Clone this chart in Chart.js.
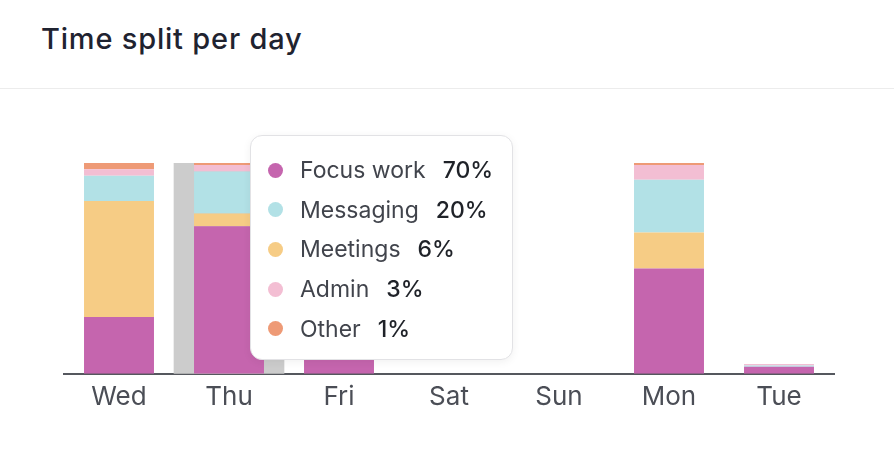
<!DOCTYPE html>
<html>
<head>
<meta charset="utf-8">
<script src="https://cdn.jsdelivr.net/npm/chart.js@4.4.1/dist/chart.umd.min.js"></script>
<style>
  html, body { margin: 0; padding: 0; background: #fff; }
  body { width: 894px; height: 458px; position: relative; overflow: hidden; font-family: Inter, "Noto Sans", sans-serif; }
  #header { position: absolute; left: 0; top: 0; width: 894px; height: 88px; border-bottom: 1px solid #ececec; }
  #title { position: absolute; left: 41px; top: 21px; font-size: 29px; font-weight: 500; color: #1f2330; letter-spacing: 0.8px; white-space: nowrap; }
  #wrap { position: absolute; left: 0; top: 89px; width: 894px; height: 369px; }
  #tip { position: absolute; left: 250px; top: 135px; width: 261px; height: 223px; background: #fff; border: 1px solid #e2e2e5; border-radius: 12px; box-shadow: 0 2px 8px rgba(0,0,0,0.06); }
  .row { position: absolute; left: 0; height: 30px; display: flex; align-items: center; white-space: nowrap; }
  .dot { width: 15px; height: 15px; border-radius: 50%; margin-left: 17px; margin-right: 17px; }
  .lab { font-size: 23px; color: #41444c; }
  .val { font-size: 23px; color: #1f2228; font-weight: 500; margin-left: 17px; }
</style>
</head>
<body>
<div id="header"><div id="title">Time split per day</div></div>
<div id="wrap"><canvas id="c"></canvas></div>
<div id="tip"></div>
<script>
const days = ["Wed", "Thu", "Fri", "Sat", "Sun", "Mon", "Tue"];
const seriesNames = ["Focus work", "Meetings", "Messaging", "Admin", "Other"];
const focusWork = [27, 70, 62, null, null, 50, 3.3];
const meetings  = [55, 6, 14, null, null, 17, 0];
const messaging = [12, 20, 17, null, null, 25, 0.6];
const admin     = [3, 3, 5, null, null, 7, 0.8];
const other     = [3, 1, 2, null, null, 1, 0];
const highlight = [null, 100, null, null, null, null, null];
const hoveredIndex = 1;
const tooltipOrder = ["Focus work", "Messaging", "Meetings", "Admin", "Other"];

const colors = {
  "Focus work": "#c565ae",
  "Meetings": "#f6cc85",
  "Messaging": "#b2e1e6",
  "Admin": "#f3bed3",
  "Other": "#ee9a76"
};
const seriesData = {
  "Focus work": focusWork,
  "Meetings": meetings,
  "Messaging": messaging,
  "Admin": admin,
  "Other": other
};

const datasets = seriesNames.map(name => ({
  label: name,
  data: seriesData[name],
  backgroundColor: colors[name],
  borderWidth: 0,
  stack: "day",
  order: 1,
  grouped: false,
  barPercentage: 0.636,
  categoryPercentage: 1.0
}));
datasets.push({
  label: "hover",
  data: highlight,
  backgroundColor: "#cccccc",
  borderWidth: 0,
  stack: "hl",
  order: 10,
  grouped: false,
  barPercentage: 1.0,
  categoryPercentage: 1.0
});

new Chart(document.getElementById("c"), {
  type: "bar",
  data: { labels: days, datasets },
  options: {
    responsive: true,
    maintainAspectRatio: false,
    animation: false,
    layout: { padding: { left: 64, right: 60, top: 74, bottom: 37 } },
    plugins: { legend: { display: false }, tooltip: { enabled: false } },
    scales: {
      x: {
        stacked: true,
        grid: { display: false, drawTicks: false },
        border: { display: true, color: "#55585e", width: 2 },
        ticks: { color: "#4b4e56", padding: 8, font: { family: "Inter", size: 26 } }
      },
      y: { stacked: true, display: false, min: 0, max: 100 }
    }
  }
});

// tooltip for hovered day
const tip = document.getElementById("tip");
tooltipOrder.forEach((name, i) => {
  const row = document.createElement("div");
  row.className = "row";
  row.style.top = (19 + i * 39.7) + "px";
  const dot = document.createElement("div");
  dot.className = "dot";
  dot.style.background = colors[name];
  const lab = document.createElement("span");
  lab.className = "lab";
  lab.textContent = name;
  const val = document.createElement("span");
  val.className = "val";
  val.textContent = seriesData[name][hoveredIndex] + "%";
  row.appendChild(dot); row.appendChild(lab); row.appendChild(val);
  tip.appendChild(row);
});
</script>
</body>
</html>
